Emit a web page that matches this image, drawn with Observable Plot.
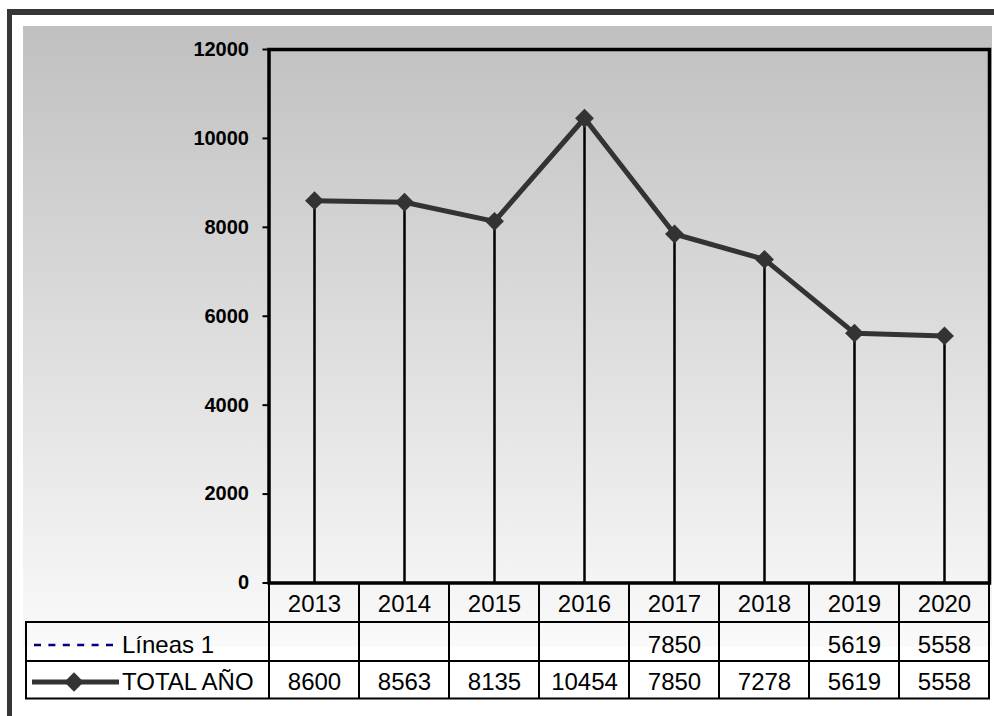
<!DOCTYPE html>
<html>
<head>
<meta charset="utf-8">
<script src="https://cdn.jsdelivr.net/npm/d3@7"></script>
<script src="https://cdn.jsdelivr.net/npm/@observablehq/plot@0.6"></script>
<style>
  body { margin: 0; background: #fff; }
  #wrap { position: relative; width: 994px; height: 716px; overflow: hidden; font-family: "Liberation Sans", Arial, sans-serif; }
  #frame { position: absolute; left: 7px; top: 9px; width: 1010px; height: 730px; border-top: 6px solid #363636; border-left: 5px solid #363636; }
  #panel { position: absolute; left: 23px; top: 26px; width: 969px; height: 621px; background: linear-gradient(#c0c0c0, #fafafa); }
  #chart { position: absolute; left: 0; top: 0; }
  #chart svg { overflow: visible; }
</style>
</head>
<body>
<div id="wrap">
  <div id="frame"></div>
  <div id="panel"></div>
  <div id="chart"></div>
</div>
<script>
// ---- data ----
const years = ["2013", "2014", "2015", "2016", "2017", "2018", "2019", "2020"];
const totalAnio = [8600, 8563, 8135, 10454, 7850, 7278, 5619, 5558];
const lineas1 = [null, null, null, null, 7850, null, 5619, 5558];
const yTicks = [0, 2000, 4000, 6000, 8000, 10000, 12000];
const rowLabels = ["Líneas 1", "TOTAL AÑO"];

const data = years.map((year, i) => ({year, total: totalAnio[i], lineas: lineas1[i]}));
const lineasCells = data.filter(d => d.lineas != null);

const FONT = "'Liberation Sans', Arial, sans-serif";
// table row edges / text centres, measured downward from the x axis (layout only)
const ROW_EDGES = [0, 39.5, 78.5, 116];
const ROW_MID = [21, 62.5, 99.5];
const FS = 24;

// table grid + legend symbols, positioned with Plot's x scale
function tableMark(index, scales, values, dims) {
  const x = scales.x;
  const left = dims.marginLeft;
  const right = dims.width - dims.marginRight;
  const top = dims.height - dims.marginBottom;
  const bw = x.bandwidth ? x.bandwidth() : (right - left) / years.length;
  const labelLeft = 26;
  const g = d3.create("svg:g");
  const lines = g.append("g").attr("stroke", "#000").attr("stroke-width", 2).attr("fill", "none");
  const edges = years.map(y => x(y)).concat([x(years[years.length - 1]) + bw]);
  for (const ex of edges) {
    lines.append("line").attr("x1", ex).attr("x2", ex).attr("y1", top).attr("y2", top + ROW_EDGES[3]);
  }
  for (let r = 1; r <= 3; r++) {
    lines.append("line").attr("x1", labelLeft - 1).attr("x2", right + 1)
      .attr("y1", top + ROW_EDGES[r]).attr("y2", top + ROW_EDGES[r]);
  }
  lines.append("line").attr("x1", labelLeft).attr("x2", labelLeft)
    .attr("y1", top + ROW_EDGES[1]).attr("y2", top + ROW_EDGES[3]);
  // legend symbol: Líneas 1 (dashed navy)
  const y1 = top + ROW_MID[1];
  g.append("line").attr("x1", 34).attr("x2", 118).attr("y1", y1).attr("y2", y1)
    .attr("stroke", "#000080").attr("stroke-width", 2.5).attr("stroke-dasharray", "7,7.4");
  // legend symbol: TOTAL AÑO (line + diamond)
  const y2 = top + ROW_MID[2];
  g.append("line").attr("x1", 32).attr("x2", 119).attr("y1", y2).attr("y2", y2)
    .attr("stroke", "#333").attr("stroke-width", 5);
  g.append("path").attr("d", d3.symbol(d3.symbolDiamond2, 240)())
    .attr("transform", `translate(74,${y2})`).attr("fill", "#333");
  return g.node();
}

const textOpts = {frameAnchor: "bottom", lineAnchor: "middle", fontSize: FS, fill: "#000"};

const chart = Plot.plot({
  width: 994,
  height: 716,
  marginLeft: 268.5,
  marginRight: 5,
  marginTop: 49,
  marginBottom: 133.5,
  style: {background: "transparent", fontFamily: FONT, color: "#000"},
  x: {type: "band", domain: years, padding: 0, axis: null},
  y: {domain: [0, 12000], axis: null},
  marks: [
    Plot.axisY({ticks: yTicks, tickSize: 6, tickPadding: 14, fontSize: 20, fontWeight: "bold",
      tickFormat: d => String(d), stroke: "#000", strokeWidth: 2, fill: "#000", label: null}),
    Plot.line(data, {x: "year", y: "lineas", stroke: "#000080", strokeWidth: 2, strokeDasharray: "6,6"}),
    Plot.ruleX(data, {x: "year", y1: 0, y2: "total", stroke: "#000", strokeWidth: 2.5}),
    Plot.line(data, {x: "year", y: "total", stroke: "#333", strokeWidth: 5}),
    Plot.dot(data, {x: "year", y: "total", symbol: "diamond2", r: 8.5, fill: "#333", stroke: "none"}),
    Plot.frame({stroke: "#000", strokeWidth: 3.5}),
    tableMark,
    // year row
    Plot.text(years, {...textOpts, x: d => d, dy: ROW_MID[0]}),
    // Líneas 1 row
    Plot.text(lineasCells, {...textOpts, x: "year", text: d => String(d.lineas), dy: ROW_MID[1]}),
    // TOTAL AÑO row
    Plot.text(data, {...textOpts, x: "year", text: d => String(d.total), dy: ROW_MID[2]}),
    // row labels
    Plot.text([rowLabels[0]], {text: d => d, frameAnchor: "bottom-left", lineAnchor: "middle", dx: -147, dy: ROW_MID[1], fontSize: FS, fill: "#000", textAnchor: "start"}),
    Plot.text([rowLabels[1]], {text: d => d, frameAnchor: "bottom-left", lineAnchor: "middle", dx: -147, dy: ROW_MID[2], fontSize: FS, fill: "#000", textAnchor: "start"})
  ]
});
document.getElementById("chart").appendChild(chart);
</script>
</body>
</html>
